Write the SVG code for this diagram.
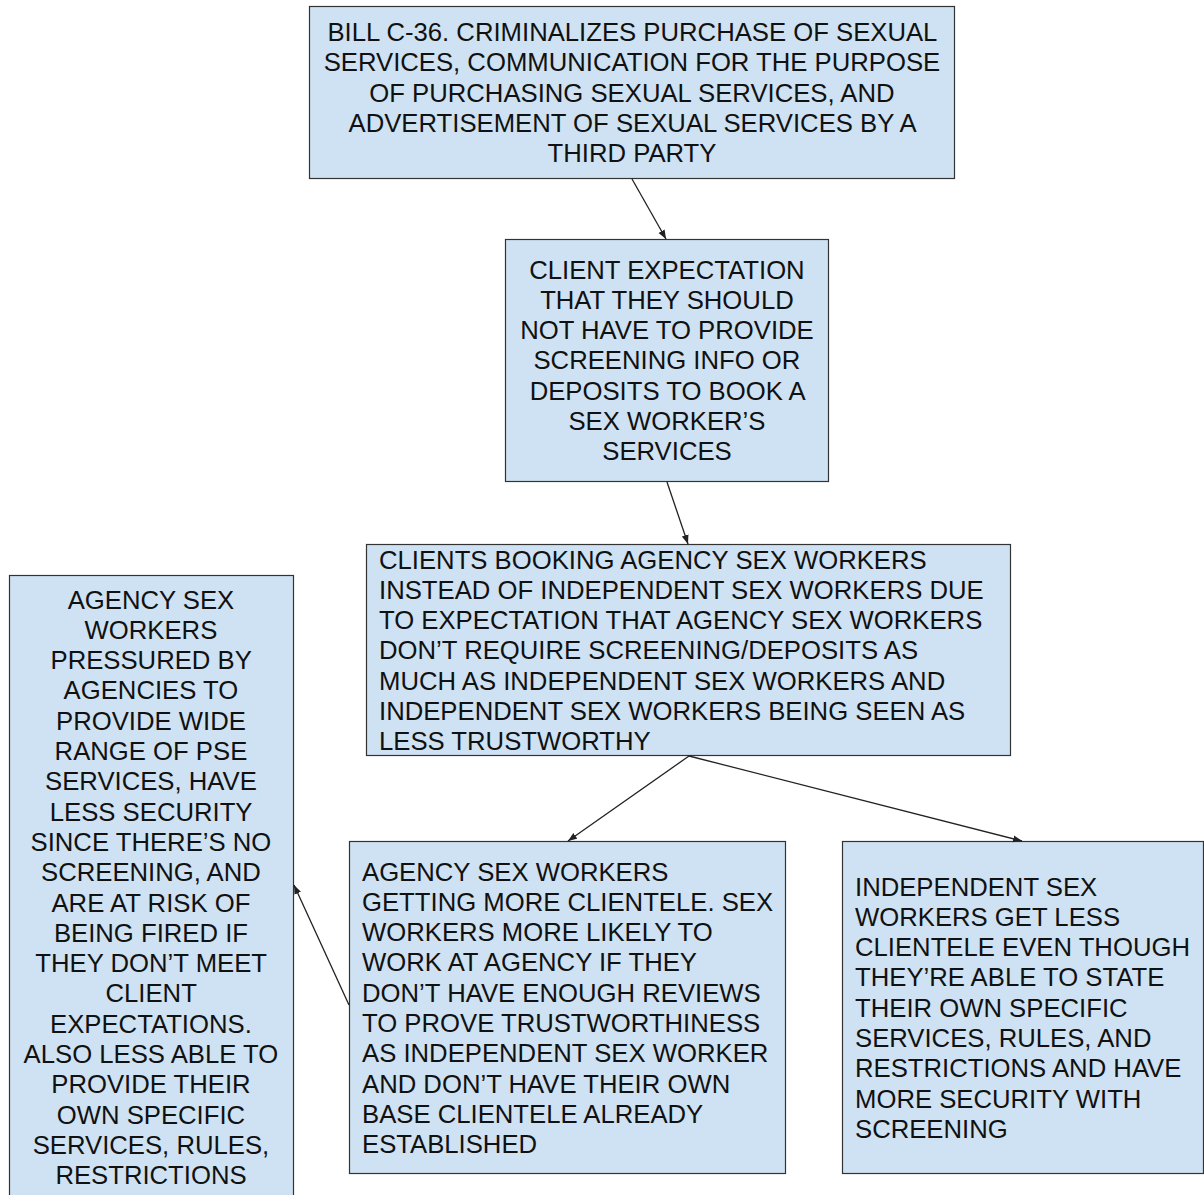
<svg xmlns="http://www.w3.org/2000/svg" width="1204" height="1195" viewBox="0 0 1204 1195">
<style>
.box{fill:#cfe2f3;stroke:#333;stroke-width:1.2}
text{font-family:"Liberation Sans",Arial,sans-serif;font-size:25.7px;fill:#111}
.c{text-anchor:middle}
.edge{stroke:#222;stroke-width:1.3;fill:none;marker-end:url(#ah)}
</style>
<defs>
<marker id="ah" markerUnits="userSpaceOnUse" markerWidth="10" markerHeight="8" refX="9" refY="4" orient="auto">
<path d="M0,0.5 L9,4 L0,7.5 z" fill="#222"/>
</marker>
</defs>
<rect width="1204" height="1195" fill="#fff"/>
<g id="n1">
<rect class="box" x="309.5" y="6.5" width="645" height="172"/>
<text class="c">
<tspan x="635.5" y="41">BILL C-36. CRIMINALIZES PURCHASE OF SEXUAL</tspan>
<tspan x="635.5" y="71.3">SERVICES, COMMUNICATION FOR THE PURPOSE</tspan>
<tspan x="635.5" y="101.6">OF PURCHASING SEXUAL SERVICES, AND</tspan>
<tspan x="635.5" y="131.9">ADVERTISEMENT OF SEXUAL SERVICES BY A</tspan>
<tspan x="632" y="162.2">THIRD PARTY</tspan>
</text>
</g>
<g id="n2">
<rect class="box" x="505.5" y="239.5" width="323" height="242"/>
<text class="c">
<tspan x="670.5" y="278.5">CLIENT EXPECTATION</tspan>
<tspan x="670.5" y="308.8">THAT THEY SHOULD</tspan>
<tspan x="670.5" y="339.1">NOT HAVE TO PROVIDE</tspan>
<tspan x="670.5" y="369.4">SCREENING INFO OR</tspan>
<tspan x="670.5" y="399.7">DEPOSITS TO BOOK A</tspan>
<tspan x="670.5" y="430">SEX WORKER’S</tspan>
<tspan x="667" y="460.3">SERVICES</tspan>
</text>
</g>
<g id="n3">
<rect class="box" x="366.5" y="544.5" width="644" height="211"/>
<text>
<tspan x="379" y="568.5">CLIENTS BOOKING AGENCY SEX WORKERS</tspan>
<tspan x="379" y="598.8">INSTEAD OF INDEPENDENT SEX WORKERS DUE</tspan>
<tspan x="379" y="629.1">TO EXPECTATION THAT AGENCY SEX WORKERS</tspan>
<tspan x="379" y="659.4">DON’T REQUIRE SCREENING/DEPOSITS AS</tspan>
<tspan x="379" y="689.7">MUCH AS INDEPENDENT SEX WORKERS AND</tspan>
<tspan x="379" y="720">INDEPENDENT SEX WORKERS BEING SEEN AS</tspan>
<tspan x="379" y="750.3">LESS TRUSTWORTHY</tspan>
</text>
</g>
<g id="n4">
<rect class="box" x="9.5" y="575.5" width="284" height="640"/>
<text class="c">
<tspan x="154.5" y="608.5">AGENCY SEX</tspan>
<tspan x="154.5" y="638.8">WORKERS</tspan>
<tspan x="154.5" y="669.1">PRESSURED BY</tspan>
<tspan x="154.5" y="699.4">AGENCIES TO</tspan>
<tspan x="154.5" y="729.7">PROVIDE WIDE</tspan>
<tspan x="154.5" y="760">RANGE OF PSE</tspan>
<tspan x="154.5" y="790.3">SERVICES, HAVE</tspan>
<tspan x="154.5" y="820.6">LESS SECURITY</tspan>
<tspan x="154.5" y="850.9">SINCE THERE’S NO</tspan>
<tspan x="154.5" y="881.2">SCREENING, AND</tspan>
<tspan x="154.5" y="911.5">ARE AT RISK OF</tspan>
<tspan x="154.5" y="941.8">BEING FIRED IF</tspan>
<tspan x="154.5" y="972.1">THEY DON’T MEET</tspan>
<tspan x="154.5" y="1002.4">CLIENT</tspan>
<tspan x="154.5" y="1032.7">EXPECTATIONS.</tspan>
<tspan x="154.5" y="1063">ALSO LESS ABLE TO</tspan>
<tspan x="154.5" y="1093.3">PROVIDE THEIR</tspan>
<tspan x="154.5" y="1123.6">OWN SPECIFIC</tspan>
<tspan x="154.5" y="1153.9">SERVICES, RULES,</tspan>
<tspan x="151" y="1184.2">RESTRICTIONS</tspan>
</text>
</g>
<g id="n5">
<rect class="box" x="349.5" y="841.5" width="436" height="332"/>
<text>
<tspan x="362" y="880.5">AGENCY SEX WORKERS</tspan>
<tspan x="362" y="910.8">GETTING MORE CLIENTELE. SEX</tspan>
<tspan x="362" y="941.1">WORKERS MORE LIKELY TO</tspan>
<tspan x="362" y="971.4">WORK AT AGENCY IF THEY</tspan>
<tspan x="362" y="1001.7">DON’T HAVE ENOUGH REVIEWS</tspan>
<tspan x="362" y="1032">TO PROVE TRUSTWORTHINESS</tspan>
<tspan x="362" y="1062.3">AS INDEPENDENT SEX WORKER</tspan>
<tspan x="362" y="1092.6">AND DON’T HAVE THEIR OWN</tspan>
<tspan x="362" y="1122.9">BASE CLIENTELE ALREADY</tspan>
<tspan x="362" y="1153.2">ESTABLISHED</tspan>
</text>
</g>
<g id="n6">
<rect class="box" x="842.5" y="841.5" width="361" height="332"/>
<text>
<tspan x="855" y="895.5">INDEPENDENT SEX</tspan>
<tspan x="855" y="925.8">WORKERS GET LESS</tspan>
<tspan x="855" y="956.1">CLIENTELE EVEN THOUGH</tspan>
<tspan x="855" y="986.4">THEY’RE ABLE TO STATE</tspan>
<tspan x="855" y="1016.7">THEIR OWN SPECIFIC</tspan>
<tspan x="855" y="1047">SERVICES, RULES, AND</tspan>
<tspan x="855" y="1077.3">RESTRICTIONS AND HAVE</tspan>
<tspan x="855" y="1107.6">MORE SECURITY WITH</tspan>
<tspan x="855" y="1137.9">SCREENING</tspan>
</text>
</g>
<g id="connectors">
<line class="edge" x1="632" y1="179" x2="666" y2="239"/>
<line class="edge" x1="667" y1="482" x2="688" y2="544"/>
<line class="edge" x1="689" y1="756" x2="568" y2="841"/>
<line class="edge" x1="689" y1="756" x2="1022" y2="841"/>
<line class="edge" x1="349" y1="1005" x2="294" y2="885"/>
</g>
</svg>
